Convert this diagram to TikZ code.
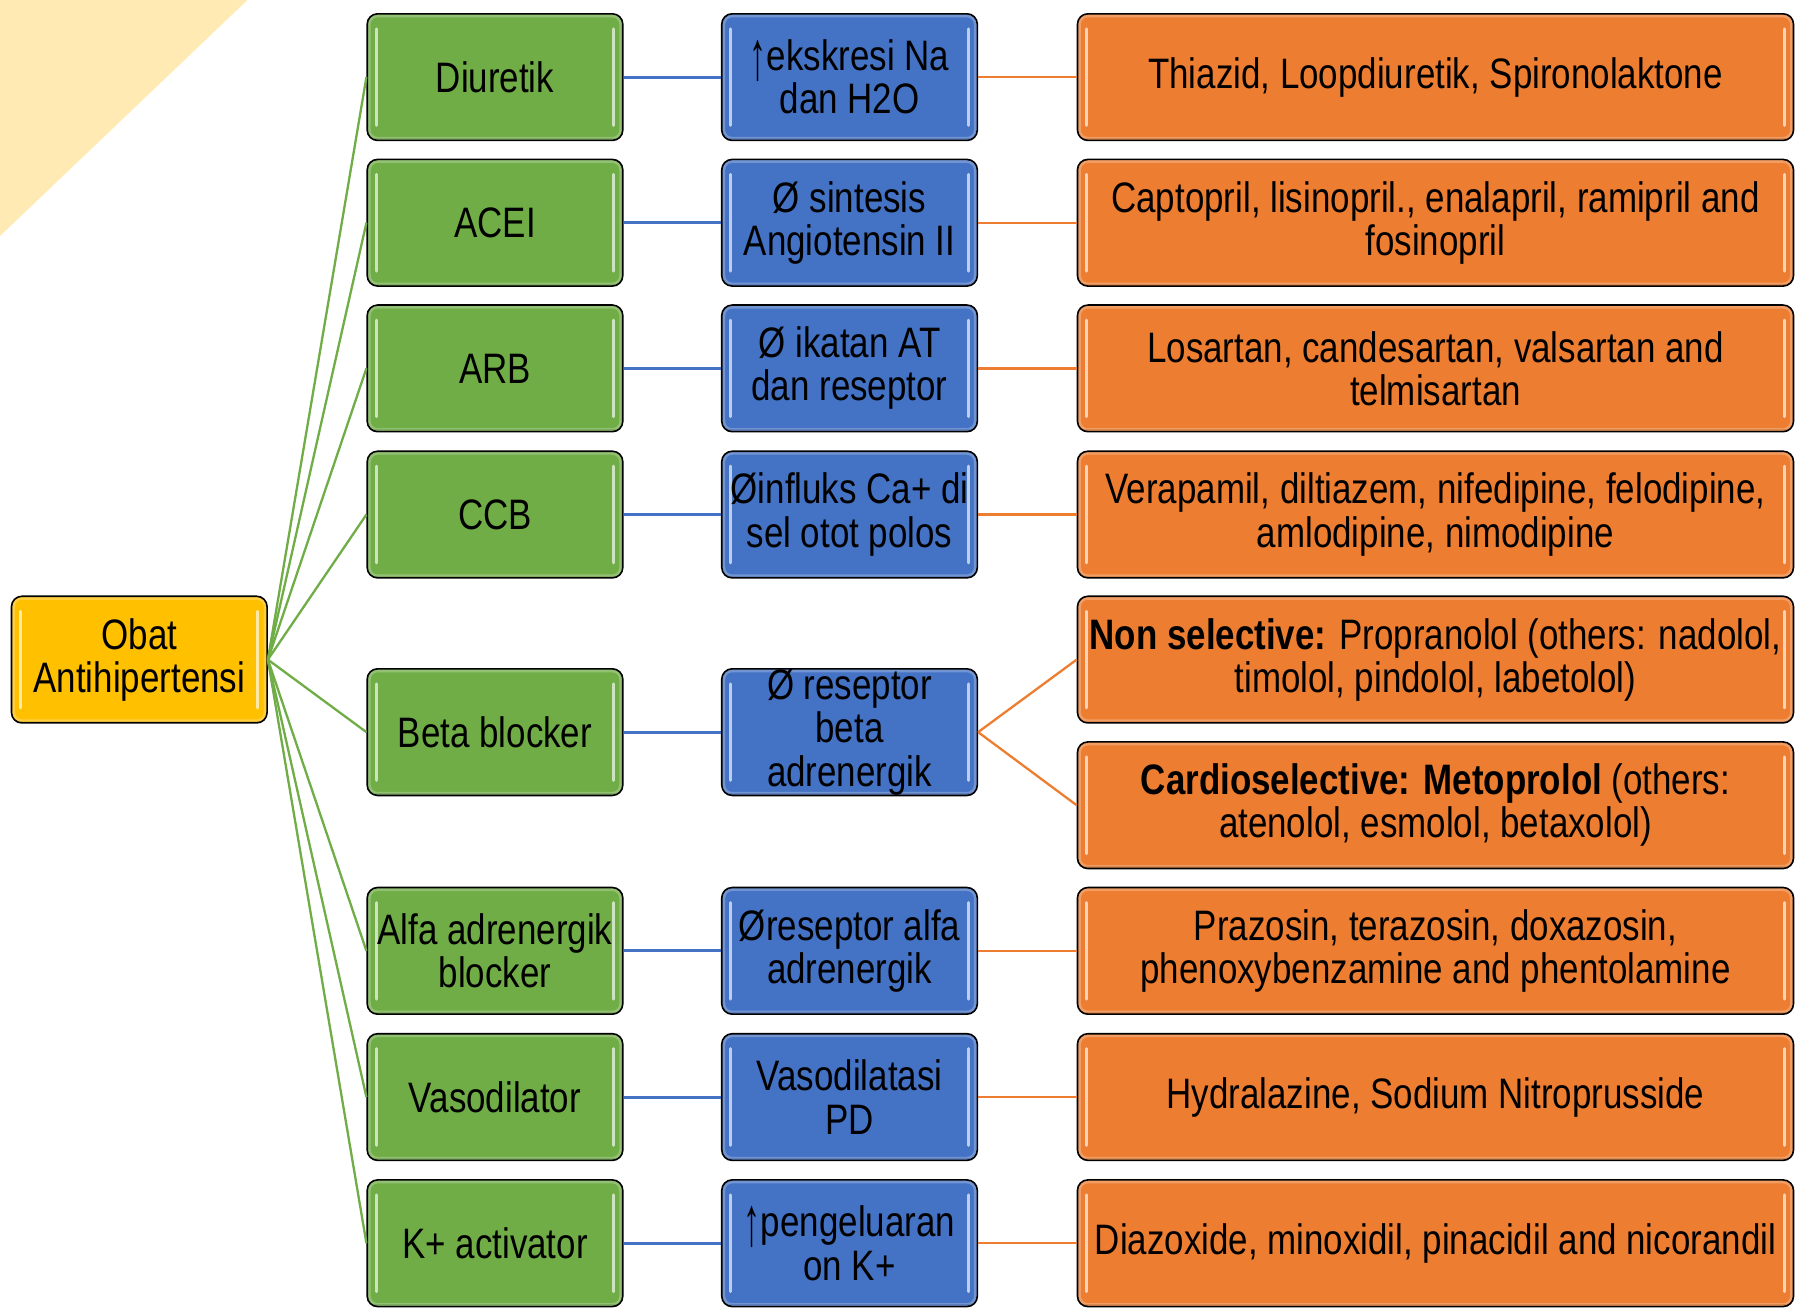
\documentclass[tikz,border=0pt]{standalone}
\usepackage{graphicx}
\usepackage{fontspec}
\setmainfont[FakeStretch=0.82]{Liberation Sans}

\definecolor{cgreen}{HTML}{70AD47}
\definecolor{cblue}{HTML}{4472C4}
\definecolor{corange}{HTML}{ED7D31}
\definecolor{cyellow}{HTML}{FFC000}
\definecolor{cpale}{HTML}{FFEAB3}

% tall thin up arrow
\newcommand{\upar}{\raisebox{-0.2em}{\resizebox{0.4em}{0.92em}{↑}}}

\tikzset{
  x=1pt, y=1pt,
  box/.style={
    draw=black, line width=1.4pt, rounded corners=9pt, fill=#1,
    minimum width=222pt, minimum height=110pt, inner sep=0pt,
    align=center, font=\fontsize{37}{37.5}\selectfont,
    path picture={
      % soft inner rim
      \draw[#1!45!white, line width=6pt, opacity=.45, rounded corners=9pt]
        (path picture bounding box.south west) rectangle (path picture bounding box.north east);
      \draw[#1!60!black, line width=4pt, opacity=.25]
        (path picture bounding box.south west) -- (path picture bounding box.south east);
      % glossy side highlights
      \draw[#1!35!white, line width=2.6pt, line cap=round]
        ([shift={(8pt,-13pt)}]path picture bounding box.north west) --
        ([shift={(8pt,13pt)}]path picture bounding box.south west);
      \draw[#1!35!white, line width=2.6pt, line cap=round]
        ([shift={(-8pt,-13pt)}]path picture bounding box.north east) --
        ([shift={(-8pt,13pt)}]path picture bounding box.south east);
    }},
  wide/.style={minimum width=622pt},
  glink/.style={cgreen, line width=2pt},
  blink/.style={cblue, line width=2.6pt},
  olink/.style={corange, line width=2pt},
}

\begin{document}
\begin{tikzpicture}
\useasboundingbox (0,0) rectangle (1568,-1139);
\fill[cpale] (0,0) -- (215,0) -- (0,-205) -- cycle;

% root
\node[box=cyellow] (root) at (121,-573) {Obat\\Antihipertensi};

% drug classes
\node[box=cgreen] (g1) at (430,-67)   {Diuretik};
\node[box=cgreen] (g2) at (430,-193.5){ACEI};
\node[box=cgreen] (g3) at (430,-320)  {ARB};
\node[box=cgreen] (g4) at (430,-447)  {CCB};
\node[box=cgreen] (g5) at (430,-636)  {Beta blocker};
\node[box=cgreen] (g6) at (430,-826)  {Alfa adrenergik\\blocker};
\node[box=cgreen] (g7) at (430,-953)  {Vasodilator};
\node[box=cgreen] (g8) at (430,-1080) {K+ activator};

% mechanisms
\node[box=cblue] (b1) at (738,-67)   {\upar ekskresi Na\\dan H2O};
\node[box=cblue] (b2) at (738,-193.5){Ø sintesis\\Angiotensin II};
\node[box=cblue] (b3) at (738,-320)  {Ø ikatan AT\\dan reseptor};
\node[box=cblue] (b4) at (738,-447)  {Øinfluks Ca+ di\\sel otot polos};
\node[box=cblue] (b5) at (738,-636)  {Ø reseptor\\beta\\adrenergik};
\node[box=cblue] (b6) at (738,-826)  {Øreseptor alfa\\adrenergik};
\node[box=cblue] (b7) at (738,-953)  {Vasodilatasi\\PD};
\node[box=cblue] (b8) at (738,-1080) {\upar pengeluaran\\on K+};

% examples
\node[box=corange, wide] (o1) at (1247,-67)   {Thiazid, Loopdiuretik, Spironolaktone};
\node[box=corange, wide] (o2) at (1247,-193.5){Captopril, lisinopril., enalapril, ramipril and\\fosinopril};
\node[box=corange, wide] (o3) at (1247,-320)  {Losartan, candesartan, valsartan and\\telmisartan};
\node[box=corange, wide] (o4) at (1247,-447)  {Verapamil, diltiazem, nifedipine, felodipine,\\amlodipine, nimodipine};
\node[box=corange, wide] (o5a) at (1247,-573) {\textbf{Non selective:} Propranolol (others: nadolol,\\timolol, pindolol, labetolol)};
\node[box=corange, wide] (o5b) at (1247,-699.5){\textbf{Cardioselective: Metoprolol} (others:\\atenolol, esmolol, betaxolol)};
\node[box=corange, wide] (o6) at (1247,-826)  {Prazosin, terazosin, doxazosin,\\phenoxybenzamine and phentolamine};
\node[box=corange, wide] (o7) at (1247,-953)  {Hydralazine, Sodium Nitroprusside};
\node[box=corange, wide] (o8) at (1247,-1080) {Diazoxide, minoxidil, pinacidil and nicorandil};

% connectors
\foreach \i in {1,...,8} {
  \draw[glink] (root.east) -- (g\i.west);
  \draw[blink] (g\i.east) -- (b\i.west);
}
\foreach \i in {1,2,3,4,6,7,8} {
  \draw[olink] (b\i.east) -- (o\i.west);
}
\draw[olink] (b5.east) -- (o5a.west);
\draw[olink] (b5.east) -- (o5b.west);
\end{tikzpicture}
\end{document}
